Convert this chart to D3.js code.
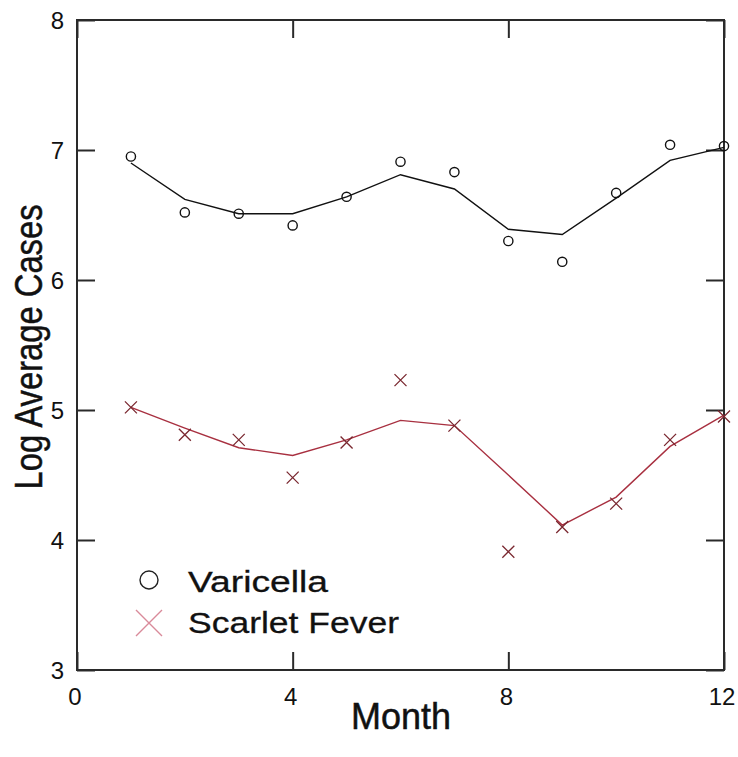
<!DOCTYPE html>
<html>
<head>
<meta charset="utf-8">
<script src="https://cdn.jsdelivr.net/npm/d3@7"></script>
<style>
  html, body { margin: 0; padding: 0; background: #fff; }
  svg { display: block; }
  text { font-family: "Liberation Sans", Arial, sans-serif; fill: #111; }
</style>
</head>
<body>
<svg id="chart" width="738" height="757"></svg>
<script>
// ---- data ----
const months = [1, 2, 3, 4, 5, 6, 7, 8, 9, 10, 11, 12];
const varicellaObs = [6.95, 6.52, 6.51, 6.42, 6.64, 6.91, 6.83, 6.30, 6.14, 6.67, 7.04, 7.03];
const varicellaFit = [6.90, 6.62, 6.51, 6.51, 6.64, 6.81, 6.70, 6.39, 6.35, 6.63, 6.92, 7.02];
const scarletObs = [5.02, 4.81, 4.77, 4.48, 4.75, 5.23, 4.88, 3.91, 4.10, 4.28, 4.77, 4.95];
const scarletFit = [5.02, 4.86, 4.71, 4.65, 4.77, 4.92, 4.88, 4.50, 4.115, 4.33, 4.72, 4.96];
const xTicks = [0, 4, 8, 12];
const yTicks = [3, 4, 5, 6, 7, 8];
const seriesNames = ["Varicella", "Scarlet Fever"];

// ---- layout ----
const svg = d3.select("#chart");
const x = d3.scaleLinear().domain([0, 12]).range([77, 724]);
const y = d3.scaleLinear().domain([3, 8]).range([670, 20]);
const tickLen = 18;
const axisColor = "#2a2a2a";
const redLine = "#a83040";
const redMark = "#7a2830";

// frame
svg.append("rect")
  .attr("x", x(0)).attr("y", y(8))
  .attr("width", x(12) - x(0)).attr("height", y(3) - y(8))
  .attr("fill", "none").attr("stroke", axisColor).attr("stroke-width", 2);

// inward ticks via d3 axes (tick lines only, labels added separately)
function tickOnly(axisGen, transform) {
  const g = svg.append("g").attr("transform", transform).call(axisGen);
  g.select(".domain").remove();
  g.selectAll("text").remove();
  g.selectAll("line").attr("stroke", axisColor).attr("stroke-width", 2);
  return g;
}
tickOnly(d3.axisBottom(x).tickValues(xTicks).tickSize(-tickLen), `translate(0,${y(3)})`);
tickOnly(d3.axisTop(x).tickValues(xTicks).tickSize(-tickLen), `translate(0,${y(8)})`);
tickOnly(d3.axisLeft(y).tickValues(yTicks).tickSize(-tickLen), `translate(${x(0)},0)`);
tickOnly(d3.axisRight(y).tickValues(yTicks).tickSize(-tickLen), `translate(${x(12)},0)`);

// tick labels
svg.append("g").selectAll("text").data(xTicks).join("text")
  .attr("x", d => x(d) - 2).attr("y", 705)
  .attr("text-anchor", "middle").attr("font-size", 24)
  .text(d => d);
svg.append("g").selectAll("text").data(yTicks).join("text")
  .attr("x", 64).attr("y", d => y(d) + 8.5)
  .attr("text-anchor", "end").attr("font-size", 24)
  .text(d => d);

// axis titles
svg.append("text")
  .attr("x", 401).attr("y", 729)
  .attr("text-anchor", "middle").attr("font-size", 37)
  .attr("textLength", 100).attr("lengthAdjust", "spacingAndGlyphs")
  .style("stroke", "#111").style("stroke-width", 0.5)
  .text("Month");
svg.append("text")
  .attr("transform", "translate(42,347) rotate(-90)")
  .attr("text-anchor", "middle").attr("font-size", 38)
  .attr("textLength", 285).attr("lengthAdjust", "spacingAndGlyphs")
  .style("stroke", "#111").style("stroke-width", 0.5)
  .text("Log Average Cases");

// lines
const line = d3.line().x(d => x(d[0])).y(d => y(d[1]));
svg.append("path")
  .datum(d3.zip(months, varicellaFit))
  .attr("d", line).attr("fill", "none")
  .attr("stroke", "#111").attr("stroke-width", 1.4);
svg.append("path")
  .datum(d3.zip(months, scarletFit))
  .attr("d", line).attr("fill", "none")
  .attr("stroke", redLine).attr("stroke-width", 1.4);

// markers
svg.append("g").selectAll("circle").data(d3.zip(months, varicellaObs)).join("circle")
  .attr("cx", d => x(d[0])).attr("cy", d => y(d[1])).attr("r", 4.6)
  .attr("fill", "none").attr("stroke", "#111").attr("stroke-width", 1.4);

function cross(g, cx, cy, h, color, w) {
  g.append("path")
    .attr("d", `M${cx - h},${cy - h}L${cx + h},${cy + h}M${cx - h},${cy + h}L${cx + h},${cy - h}`)
    .attr("stroke", color).attr("stroke-width", w).attr("fill", "none");
}
const crossG = svg.append("g");
d3.zip(months, scarletObs).forEach(d => cross(crossG, x(d[0]), y(d[1]), 6, redMark, 1.3));

// legend
const leg = svg.append("g");
leg.append("circle").attr("cx", 149).attr("cy", 580).attr("r", 9)
  .attr("fill", "none").attr("stroke", "#222").attr("stroke-width", 1.4);
leg.append("text").attr("x", 188).attr("y", 592).attr("font-size", 30)
  .attr("textLength", 140).attr("lengthAdjust", "spacingAndGlyphs")
  .style("stroke", "#111").style("stroke-width", 0.3)
  .text(seriesNames[0]);
cross(leg, 149, 623, 13, "#d98a9a", 1.4);
leg.append("text").attr("x", 188).attr("y", 633).attr("font-size", 30)
  .attr("textLength", 211).attr("lengthAdjust", "spacingAndGlyphs")
  .style("stroke", "#111").style("stroke-width", 0.3)
  .text(seriesNames[1]);
</script>
</body>
</html>
